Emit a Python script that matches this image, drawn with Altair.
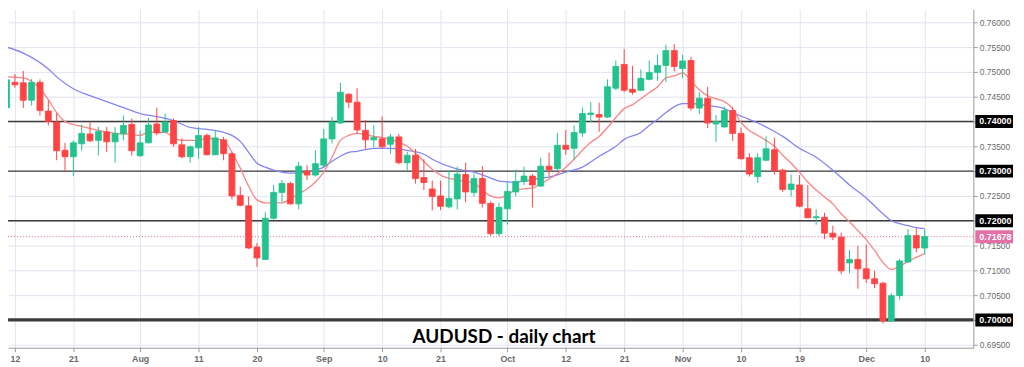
import json
import altair as alt
import pandas as pd

# ---------------- data ----------------
first_day = "2021-07-09"
last_day = "2021-12-10"

opens = [0.7428, 0.7479, 0.7478, 0.7443, 0.7479, 0.7421, 0.7399, 0.7342, 0.7329, 0.7355,
         0.7375, 0.7362, 0.7379, 0.7359, 0.7375, 0.7394, 0.7331, 0.7357, 0.7395, 0.7379,
         0.7402, 0.7353, 0.7329, 0.7347, 0.7372, 0.7333, 0.7363, 0.7335, 0.7251, 0.7230,
         0.7147, 0.7122, 0.7205, 0.7257, 0.7275, 0.7234, 0.7300, 0.7292, 0.7312, 0.7365,
         0.7397, 0.7455, 0.7439, 0.7382, 0.7363, 0.7365, 0.7354, 0.7369, 0.7317, 0.7332,
         0.7287, 0.7264, 0.7250, 0.7228, 0.7244, 0.7293, 0.7257, 0.7285, 0.7235, 0.7174,
         0.7224, 0.7258, 0.7279, 0.7290, 0.7270, 0.7310, 0.7305, 0.7352, 0.7346, 0.7377,
         0.7414, 0.7414, 0.7409, 0.7467, 0.7515, 0.7465, 0.7463, 0.7485, 0.7499, 0.7513,
         0.7543, 0.7507, 0.7523, 0.7427, 0.7447, 0.7395, 0.7389, 0.7422, 0.7376, 0.7327,
         0.7289, 0.7322, 0.7343, 0.7302, 0.7263, 0.7272, 0.7224, 0.7206, 0.7207, 0.7175,
         0.7167, 0.7115, 0.7122, 0.7103, 0.7083, 0.7074, 0.6998, 0.7049, 0.7117, 0.7170,
         0.7145]
highs = [0.7492, 0.7496, 0.7502, 0.7486, 0.7485, 0.7442, 0.7417, 0.7357, 0.7362, 0.7394,
         0.7398, 0.7389, 0.7389, 0.7389, 0.7412, 0.7406, 0.7382, 0.7407, 0.7428, 0.7416,
         0.7406, 0.7366, 0.7352, 0.7389, 0.7376, 0.7382, 0.7369, 0.7339, 0.7269, 0.7249,
         0.7155, 0.7217, 0.7272, 0.7282, 0.7279, 0.7319, 0.7312, 0.7342, 0.7385, 0.7409,
         0.7478, 0.7457, 0.7467, 0.7403, 0.7393, 0.7410, 0.7375, 0.7375, 0.7339, 0.7345,
         0.7324, 0.7281, 0.7281, 0.7302, 0.7309, 0.7317, 0.7295, 0.7310, 0.7239, 0.7236,
         0.7279, 0.7303, 0.7309, 0.7294, 0.7327, 0.7337, 0.7377, 0.7383, 0.7392, 0.7428,
         0.7439, 0.7438, 0.7485, 0.7523, 0.7546, 0.7512, 0.7505, 0.7523, 0.7535, 0.7555,
         0.7556, 0.7535, 0.7530, 0.7459, 0.7470, 0.7413, 0.7430, 0.7429, 0.7388, 0.7336,
         0.7336, 0.7370, 0.7367, 0.7305, 0.7293, 0.7292, 0.7272, 0.7223, 0.7216, 0.7190,
         0.7176, 0.7141, 0.7149, 0.7152, 0.7099, 0.7077, 0.7054, 0.7123, 0.7183, 0.7185,
         0.7183]
lows = [0.7410, 0.7468, 0.7427, 0.7432, 0.7412, 0.7392, 0.7322, 0.7299, 0.7290, 0.7341,
        0.7359, 0.7332, 0.7339, 0.7317, 0.7362, 0.7331, 0.7329, 0.7356, 0.7372, 0.7377,
        0.7349, 0.7326, 0.7317, 0.7325, 0.7332, 0.7332, 0.7322, 0.7243, 0.7229, 0.7143,
        0.7107, 0.7121, 0.7202, 0.7237, 0.7232, 0.7223, 0.7282, 0.7289, 0.7308, 0.7356,
        0.7395, 0.7427, 0.7375, 0.7345, 0.7348, 0.7346, 0.7335, 0.7314, 0.7302, 0.7275,
        0.7262, 0.7221, 0.7221, 0.7225, 0.7223, 0.7237, 0.7249, 0.7227, 0.7170, 0.7169,
        0.7192, 0.7249, 0.7272, 0.7227, 0.7268, 0.7289, 0.7300, 0.7333, 0.7323, 0.7369,
        0.7399, 0.7379, 0.7407, 0.7463, 0.7459, 0.7454, 0.7462, 0.7483, 0.7482, 0.7480,
        0.7501, 0.7488, 0.7422, 0.7415, 0.7387, 0.7359, 0.7388, 0.7361, 0.7323, 0.7289,
        0.7276, 0.7320, 0.7293, 0.7258, 0.7249, 0.7227, 0.7205, 0.7192, 0.7163, 0.7161,
        0.7092, 0.7094, 0.7063, 0.7075, 0.7064, 0.6993, 0.6996, 0.7041, 0.7115, 0.7136,
        0.7132]
closes = [0.7484, 0.7474, 0.7443, 0.7479, 0.7422, 0.7400, 0.7341, 0.7329, 0.7357, 0.7376,
          0.7361, 0.7380, 0.7359, 0.7376, 0.7392, 0.7341, 0.7357, 0.7393, 0.7377, 0.7399,
          0.7355, 0.7329, 0.7349, 0.7372, 0.7333, 0.7367, 0.7335, 0.7250, 0.7231, 0.7145,
          0.7125, 0.7205, 0.7257, 0.7275, 0.7234, 0.7310, 0.7292, 0.7315, 0.7365, 0.7399,
          0.7459, 0.7439, 0.7383, 0.7363, 0.7368, 0.7349, 0.7369, 0.7317, 0.7332, 0.7285,
          0.7277, 0.7249, 0.7229, 0.7245, 0.7294, 0.7258, 0.7285, 0.7235, 0.7174, 0.7227,
          0.7259, 0.7279, 0.7290, 0.7272, 0.7310, 0.7303, 0.7352, 0.7344, 0.7378, 0.7416,
          0.7417, 0.7409, 0.7470, 0.7511, 0.7463, 0.7459, 0.7487, 0.7499, 0.7513, 0.7543,
          0.7511, 0.7522, 0.7427, 0.7447, 0.7397, 0.7400, 0.7422, 0.7376, 0.7325, 0.7294,
          0.7327, 0.7345, 0.7301, 0.7263, 0.7274, 0.7229, 0.7206, 0.7208, 0.7175, 0.7167,
          0.7099, 0.7122, 0.7103, 0.7083, 0.7073, 0.6998, 0.7049, 0.7119, 0.7170, 0.7145,
          0.7168]

# moving averages (trading-day index, value); day 0 = 12 Jul
fast_ma_days = [-1, 1, 3, 4, 5, 6, 8, 10, 12, 14, 15, 16, 18, 19, 20, 22, 23, 25, 26, 27,
                28, 29, 30, 32, 33, 34, 35, 36, 37, 38, 39, 40, 41, 43, 45, 47, 48, 50, 51, 53,
                55, 56, 57, 58, 59, 60, 62, 63, 64, 66, 67, 68, 69, 70, 71, 72, 73, 74, 75, 76,
                77, 78, 79, 80, 81, 82, 83, 84, 85, 86, 87, 88, 89, 90, 91, 92, 93, 94, 95, 96,
                97, 98, 99, 100, 101, 102, 103, 104, 105, 106, 107, 108, 109]
fast_ma_vals = [0.7490, 0.7488, 0.7466, 0.7444, 0.7418, 0.7400, 0.7390, 0.7382, 0.7376, 0.7374,
                0.7372, 0.7378, 0.7378, 0.7368, 0.7362, 0.7362, 0.7366, 0.7362, 0.7338, 0.7306,
                0.7270, 0.7242, 0.7236, 0.7236, 0.7244, 0.7254, 0.7264, 0.7278, 0.7298, 0.7328,
                0.7362, 0.7372, 0.7376, 0.7370, 0.7364, 0.7350, 0.7336, 0.7304, 0.7292, 0.7282,
                0.7276, 0.7262, 0.7250, 0.7246, 0.7252, 0.7262, 0.7266, 0.7274, 0.7284, 0.7308,
                0.7324, 0.7342, 0.7358, 0.7370, 0.7388, 0.7408, 0.7426, 0.7434, 0.7446, 0.7458,
                0.7470, 0.7488, 0.7492, 0.7498, 0.7482, 0.7464, 0.7452, 0.7446, 0.7440, 0.7426,
                0.7398, 0.7382, 0.7372, 0.7362, 0.7350, 0.7332, 0.7316, 0.7298, 0.7278, 0.7262,
                0.7248, 0.7234, 0.7214, 0.7198, 0.7180, 0.7162, 0.7140, 0.7116, 0.7102, 0.7108,
                0.7118, 0.7126, 0.7134]
slow_ma_days = [-1, 1, 4, 5, 7, 9, 11, 13, 15, 17, 19, 21, 23, 25, 26, 27, 28, 29, 30, 31,
                33, 35, 36, 37, 38, 39, 40, 41, 43, 45, 47, 49, 50, 53, 55, 57, 58, 60, 61, 63,
                64, 66, 68, 70, 72, 73, 75, 76, 77, 78, 80, 81, 83, 85, 86, 88, 89, 91, 92, 94,
                96, 98, 100, 102, 104, 105, 106, 107, 108, 109]
slow_ma_vals = [0.7550, 0.7538, 0.7506, 0.7490, 0.7466, 0.7452, 0.7440, 0.7428, 0.7416, 0.7410,
                0.7402, 0.7388, 0.7384, 0.7378, 0.7372, 0.7360, 0.7338, 0.7316, 0.7308, 0.7302,
                0.7296, 0.7298, 0.7302, 0.7308, 0.7320, 0.7330, 0.7338, 0.7340, 0.7346, 0.7346,
                0.7342, 0.7334, 0.7324, 0.7304, 0.7298, 0.7286, 0.7280, 0.7278, 0.7280, 0.7286,
                0.7288, 0.7298, 0.7308, 0.7330, 0.7350, 0.7364, 0.7378, 0.7392, 0.7404, 0.7418,
                0.7436, 0.7436, 0.7432, 0.7426, 0.7418, 0.7404, 0.7397, 0.7380, 0.7370, 0.7346,
                0.7328, 0.7302, 0.7272, 0.7246, 0.7214, 0.7200, 0.7194, 0.7190, 0.7186, 0.7184]

key_levels = [0.74, 0.73, 0.72, 0.70]
key_labels = ["0.74000", "0.73000", "0.72000", "0.70000"]
last_price = 0.71678
last_label = "0.71678"

x_tick_days = [0, 7, 15, 22, 29, 37, 44, 51, 59, 66, 73, 80, 87, 94, 102, 109]
x_tick_labels = ["12", "21", "Aug", "11", "20", "Sep", "10", "21", "Oct", "12", "21",
                 "Nov", "10", "19", "Dec", "10"]
y_ticks = [0.695, 0.700, 0.705, 0.710, 0.715, 0.720, 0.725, 0.730, 0.735, 0.740,
           0.745, 0.750, 0.755, 0.760]
chart_title = "AUDUSD - daily chart"

# ---------------- tables ----------------
dates = pd.bdate_range(first_day, last_day)
candles = pd.DataFrame({
    "day": list(range(-1, len(opens) - 1)),
    "date": dates.strftime("%Y-%m-%d"),
    "open": opens, "high": highs, "low": lows, "close": closes,
})
candles["dir"] = ["up" if c >= o else "down" for o, c in zip(opens, closes)]

fast = pd.DataFrame({"day": fast_ma_days, "ma": fast_ma_vals})
slow = pd.DataFrame({"day": slow_ma_days, "ma": slow_ma_vals})
levels = pd.DataFrame({"v": key_levels, "label": key_labels,
                       "w": [1.4, 1.4, 1.4, 3.2]})
boxes = pd.DataFrame({"v": key_levels + [last_price],
                      "label": key_labels + [last_label],
                      "kind": ["key"] * 4 + ["last"]})

GREEN = "#22c38e"
RED = "#ff4343"
PINK = "#e56fa7"
GRID = "#e3e3f1"
AXC = "#9a9a9a"

W, H = 973, 341
xs = alt.Scale(domain=[-0.235, 114.24], nice=False, zero=False)
ys = alt.Scale(domain=[0.6944, 0.7626], nice=False, zero=False)

label_expr = "{}[indexof({}, datum.value)]".format(json.dumps(x_tick_labels), json.dumps(x_tick_days))

x_axis = alt.Axis(values=x_tick_days, labelExpr=label_expr, title=None, grid=True,
                  gridColor=GRID, gridWidth=1, domainColor=AXC, tickColor=AXC, tickSize=4,
                  labelColor="#6a6a6a", labelFont="Liberation Sans", labelFontSize=9,
                  labelFontWeight="bold", labelPadding=3, labelFlush=False)
y_axis = alt.Axis(values=y_ticks, format=".5f", orient="right", title=None, grid=True,
                  gridColor=GRID, gridWidth=1, domainColor=AXC, tickColor=AXC, tickSize=4,
                  labelColor="#6a6a6a", labelFont="Liberation Sans", labelFontSize=8.5,
                  labelPadding=2)


def X(field):
    return alt.X(field, scale=xs, axis=x_axis)


def Y(field):
    return alt.Y(field, scale=ys, axis=y_axis)


up_cond = "datum.close >= datum.open"

base = alt.Chart(candles)

level_rules = alt.Chart(levels).mark_rule(color="#3c3c3c").encode(
    y=Y("v:Q"),
    strokeWidth=alt.StrokeWidth("w:Q", scale=None, legend=None),
)

last_rule = alt.Chart(pd.DataFrame({"v": [last_price]})).mark_rule(
    color="#e0608f", strokeDash=[1, 2], strokeWidth=1
).encode(y=Y("v:Q"))

wicks = base.mark_rule(strokeWidth=1, clip=True).encode(
    x=X("day:Q"), y=Y("low:Q"), y2="high:Q",
    color=alt.condition(up_cond, alt.value(GREEN), alt.value(RED)),
)

bodies = base.mark_bar(size=6, strokeWidth=0.8, clip=True).encode(
    x=X("day:Q"), y=Y("open:Q"), y2="close:Q",
    color=alt.condition(up_cond, alt.value(GREEN), alt.value(RED)),
    stroke=alt.condition(up_cond, alt.value(GREEN), alt.value(RED)),
)

slow_line = alt.Chart(slow).mark_line(color="#8484f6", strokeWidth=1.3,
                                      interpolate="monotone", clip=True).encode(
    x=X("day:Q"), y=Y("ma:Q"),
)
fast_line = alt.Chart(fast).mark_line(color="#fa8585", strokeWidth=1.3,
                                      interpolate="monotone", clip=True).encode(
    x=X("day:Q"), y=Y("ma:Q"),
)

box_layer = alt.Chart(boxes).transform_calculate(
    top="datum.v + 0.0013", bot="datum.v - 0.0013"
).mark_rect().encode(
    x=alt.value(975), x2=alt.value(1013),
    y=Y("top:Q"), y2="bot:Q",
    color=alt.condition("datum.kind == 'last'", alt.value(PINK), alt.value("#000000")),
)
box_text = alt.Chart(boxes).mark_text(
    align="left", baseline="middle", color="white", fontWeight="bold",
    font="Liberation Sans", fontSize=9
).encode(
    x=alt.value(979),
    y=Y("v:Q"),
    text="label:N",
)

title_text = alt.Chart(pd.DataFrame({"t": [chart_title]})).mark_text(
    align="center", baseline="middle", font="Lato", fontWeight="bold",
    fontSize=19, color="#000000"
).encode(x=alt.value(500), y=alt.value(330), text="t:N")

chart = alt.layer(
    level_rules, last_rule, slow_line, fast_line, wicks, bodies,
    box_layer, box_text, title_text
).properties(
    width=W, height=H,
    autosize=alt.AutoSizeParams(type="none"),
    padding={"left": 0, "top": 0, "right": 43, "bottom": 16},
    background="white",
).configure_view(stroke=None)

chart.save("out.html", embed_options={"renderer": "svg", "actions": False})
